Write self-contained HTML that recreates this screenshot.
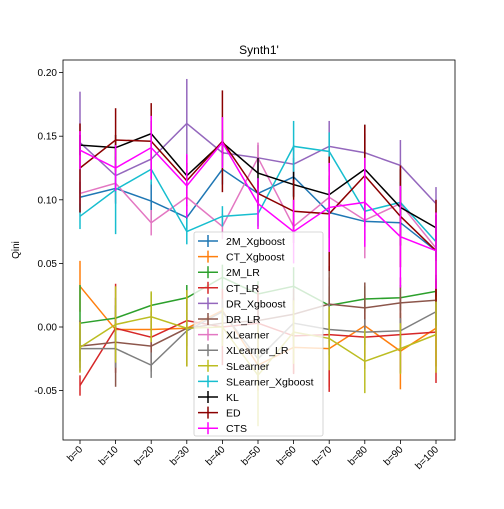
<!DOCTYPE html>
<html><head><meta charset="utf-8"><style>
body{margin:0;background:#fff;}
svg{font-family:"Liberation Sans","DejaVu Sans",sans-serif;}
</style></head><body>
<svg id="chart" width="504" height="504" viewBox="0 0 504 504" xmlns="http://www.w3.org/2000/svg"></svg>
<script>
const categories=["b=0","b=10","b=20","b=30","b=40","b=50","b=60","b=70","b=80","b=90","b=100"];
const seriesNames=["2M_Xgboost","CT_Xgboost","2M_LR","CT_LR","DR_Xgboost","DR_LR","XLearner","XLearner_LR","SLearner","SLearner_Xgboost","KL","ED","CTS"];
const v2MX=[0.102,0.109,0.099,0.086,0.124,0.105,0.118,0.090,0.083,0.082,0.060];
const vCTX=[0.032,-0.002,-0.002,-0.001,0.013,-0.030,-0.016,-0.017,0.001,-0.019,-0.001];
const v2MLR=[0.003,0.007,0.017,0.023,0.039,0.026,0.032,0.017,0.022,0.023,0.028];
const vCTLR=[-0.046,-0.001,-0.008,0.005,0.000,0.003,-0.007,-0.006,-0.008,-0.006,-0.004];
const vDRX=[0.145,0.119,0.132,0.160,0.137,0.133,0.128,0.142,0.137,0.127,0.097];
const vDRLR=[-0.015,-0.012,-0.015,-0.001,0.003,0.005,0.010,0.018,0.015,0.019,0.021];
const vXL=[0.105,0.113,0.082,0.102,0.079,0.133,0.079,0.102,0.084,0.097,0.062];
const vXLLR=[-0.017,-0.017,-0.030,-0.003,0.012,-0.025,0.003,-0.002,-0.004,-0.003,0.012];
const vSL=[-0.016,0.002,0.008,-0.001,0.000,-0.038,-0.004,-0.009,-0.027,-0.017,-0.006];
const vSLX=[0.087,0.108,0.124,0.075,0.087,0.089,0.142,0.138,0.091,0.098,0.067];
const vKL=[0.143,0.141,0.152,0.119,0.145,0.121,0.112,0.104,0.124,0.094,0.078];
const vED=[0.125,0.147,0.146,0.115,0.146,0.105,0.091,0.089,0.119,0.087,0.060];
const vCTS=[0.139,0.125,0.141,0.111,0.145,0.097,0.075,0.094,0.098,0.071,0.060];
const e2MX=[0.012,0.012,0.015,0.010,0.012,0.012,0.015,0.020,0.015,0.012,0.008];
const eCTX=[0.020,0.015,0.015,0.030,0.015,0.020,0.020,0.030,0.025,0.030,0.030];
const e2MLR=[0.030,0.010,0.010,0.010,0.010,0.010,0.015,0.015,0.010,0.010,0.010];
const eCTLR=[0.008,0.035,0.020,0.020,0.030,0.030,0.030,0.045,0.025,0.030,0.040];
const eDRX=[0.040,0.015,0.015,0.035,0.010,0.010,0.015,0.020,0.015,0.020,0.013];
const eDRLR=[0.020,0.035,0.020,0.030,0.015,0.015,0.020,0.030,0.020,0.020,0.020];
const eXL=[0.010,0.015,0.010,0.010,0.010,0.012,0.010,0.015,0.030,0.010,0.010];
const eXLLR=[0.015,0.015,0.010,0.015,0.010,0.020,0.015,0.020,0.010,0.010,0.010];
const eSL=[0.020,0.030,0.020,0.030,0.015,0.040,0.025,0.025,0.025,0.020,0.030];
const eSLX=[0.010,0.035,0.012,0.010,0.008,0.010,0.020,0.015,0.010,0.010,0.012];
const eKL=[0.008,0.010,0.010,0.010,0.010,0.012,0.010,0.015,0.035,0.030,0.010];
const eED=[0.035,0.025,0.030,0.020,0.040,0.010,0.025,0.045,0.040,0.040,0.040];
const eCTS=[0.015,0.018,0.025,0.025,0.020,0.020,0.025,0.035,0.035,0.040,0.030];
const yTicks=[-0.05,0.00,0.05,0.10,0.15,0.20];
const colors=["#1f77b4","#ff7f0e","#2ca02c","#d62728","#9467bd","#8c564b","#e377c2","#7f7f7f","#bcbd22","#17becf","#000000","#8b0000","#ff00ff"];
const vals=[v2MX,vCTX,v2MLR,vCTLR,vDRX,vDRLR,vXL,vXLLR,vSL,vSLX,vKL,vED,vCTS];
const errs=[e2MX,eCTX,e2MLR,eCTLR,eDRX,eDRLR,eXL,eXLLR,eSL,eSLX,eKL,eED,eCTS];

const svg=document.getElementById('chart');
const NS="http://www.w3.org/2000/svg";
const L=63,R=455,T=60,B=440;
function xS(i){return 80+i*(436-80)/(categories.length-1);}
function yS(v){return 327-v*1272;}
function mk(tag,attrs,parent){const e=document.createElementNS(NS,tag);for(const k in attrs)e.setAttribute(k,attrs[k]);(parent||svg).appendChild(e);return e;}

const title=mk('text',{x:259,y:54,'text-anchor':'middle','font-size':12});
title.textContent="Synth1'";


const yl=mk('text',{x:19,y:250,'text-anchor':'middle','font-size':10,transform:'rotate(-90 19 250)'});
yl.textContent="Qini";



yTicks.forEach(t=>{const y=yS(t);
 mk('line',{x1:L-4,x2:L,y1:y,y2:y,stroke:'#000','stroke-width':0.8});
 const tx=mk('text',{x:L-6,y:y+3.5,'text-anchor':'end','font-size':10});
 tx.textContent=t.toFixed(2);
 
 
});
categories.forEach((c,i)=>{const x=xS(i);
 mk('line',{x1:x,x2:x,y1:B,y2:B+4,stroke:'#000','stroke-width':0.8});
 const tx=mk('text',{x:x+3,y:B+10,'text-anchor':'end','font-size':10,transform:`rotate(-45 ${x+3} ${B+10})`});
 tx.textContent=c;
 
 
});

vals.forEach((vs,s)=>{
 const g=mk('g',{});
 
 
 vs.forEach((v,i)=>{const x=xS(i);
  mk('line',{x1:x,x2:x,y1:yS(v-errs[s][i]),y2:yS(v+errs[s][i]),stroke:colors[s],'stroke-width':1.5},g);
 });
 mk('polyline',{points:vs.map((v,i)=>xS(i)+','+yS(v)).join(' '),fill:'none',stroke:colors[s],'stroke-width':1.5},g);
});

mk('rect',{x:L,y:T,width:R-L,height:B-T,fill:'none',stroke:'#000','stroke-width':0.8});

const lg=mk('g',{});


mk('rect',{x:194,y:232,width:129,height:204,rx:2,fill:'#fff','fill-opacity':0.8,stroke:'#ccc','stroke-width':0.8},lg);
seriesNames.forEach((n,s)=>{const y=241+s*15.6;
 const e=mk('g',{},lg);
 
 
 mk('line',{x1:198,x2:218,y1:y,y2:y,stroke:colors[s],'stroke-width':1.5},e);
 mk('line',{x1:208,x2:208,y1:y-6,y2:y+6,stroke:colors[s],'stroke-width':1.5},e);
 const t=mk('text',{x:226,y:y+4,'font-size':10.5},e);
 t.textContent=n;
});
</script>
</body></html>
